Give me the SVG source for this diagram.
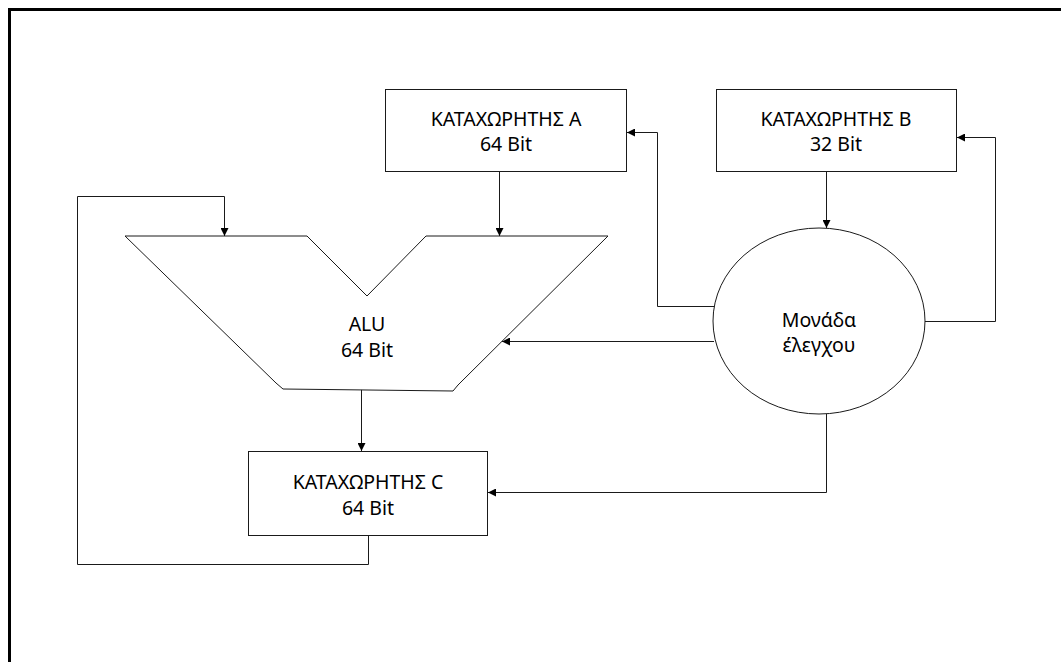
<svg xmlns="http://www.w3.org/2000/svg" width="1061" height="662" viewBox="0 0 1061 662">
  <style>
    .box { fill: #ffffff; stroke: #1a1a1a; stroke-width: 1; }
    .wire { fill: none; stroke: #1a1a1a; stroke-width: 1; }
    .lbl { font-family: "Noto Sans", "Open Sans", sans-serif; font-size: 19.5px; fill: #000; text-anchor: middle; }
  </style>
  <defs>
    <marker id="arr" viewBox="0 0 10 10" refX="10" refY="5" markerWidth="9" markerHeight="8" markerUnits="userSpaceOnUse" orient="auto">
      <path d="M0,0 L10,5 L0,10 z" fill="#000"/>
    </marker>
  </defs>
  <rect width="1061" height="662" fill="#ffffff"/>
  <!-- frame (open at right and bottom) -->
  <path d="M9.5,662 L9.5,9.5 L1061,9.5" fill="none" stroke="#000" stroke-width="3"/>

  <g id="connectors">
    <!-- reg A -> ALU -->
    <path class="wire" d="M499.5,172 L499.5,236" marker-end="url(#arr)"/>
    <!-- reg B -> control unit -->
    <path class="wire" d="M826.5,172 L826.5,228" marker-end="url(#arr)"/>
    <!-- control unit -> reg A -->
    <path class="wire" d="M716,306.5 L657.5,306.5 L657.5,132.5 L627,132.5" marker-end="url(#arr)"/>
    <!-- control unit -> reg B -->
    <path class="wire" d="M924,321.5 L995.5,321.5 L995.5,137.5 L957,137.5" marker-end="url(#arr)"/>
    <!-- control unit -> ALU -->
    <path class="wire" d="M714,341.5 L502,341.5" marker-end="url(#arr)"/>
    <!-- control unit -> reg C -->
    <path class="wire" d="M826.5,414 L826.5,492.5 L488,492.5" marker-end="url(#arr)"/>
    <!-- ALU -> reg C -->
    <path class="wire" d="M361.5,389 L361.5,451" marker-end="url(#arr)"/>
    <!-- reg C feedback -> ALU -->
    <path class="wire" d="M368.5,536 L368.5,564.5 L77.5,564.5 L77.5,196.5 L224.5,196.5 L224.5,236" marker-end="url(#arr)"/>
  </g>

  <g id="regA">
    <rect class="box" x="385.5" y="89.5" width="241" height="82"/>
    <text class="lbl" x="506" y="126">ΚΑΤΑΧΩΡΗΤΗΣ Α</text>
    <text class="lbl" x="506" y="151">64 Bit</text>
  </g>

  <g id="regB">
    <rect class="box" x="716.5" y="89.5" width="240" height="82"/>
    <text class="lbl" x="836" y="126">ΚΑΤΑΧΩΡΗΤΗΣ Β</text>
    <text class="lbl" x="836" y="151">32 Bit</text>
  </g>

  <g id="alu">
    <polygon class="box" points="125,236 307,236 367,296 426,236 608,236 458,385 453,391 283,389 276,383"/>
    <text class="lbl" x="367" y="331">ALU</text>
    <text class="lbl" x="367" y="357">64 Bit</text>
  </g>

  <g id="regC">
    <rect class="box" x="248.5" y="451.5" width="239" height="84"/>
    <text class="lbl" x="368" y="489">ΚΑΤΑΧΩΡΗΤΗΣ C</text>
    <text class="lbl" x="368" y="515">64 Bit</text>
  </g>

  <g id="control">
    <ellipse class="box" cx="819" cy="321" rx="106" ry="93"/>
    <text class="lbl" x="819" y="327">Μονάδα</text>
    <text class="lbl" x="819" y="352">έλεγχου</text>
  </g>
</svg>
